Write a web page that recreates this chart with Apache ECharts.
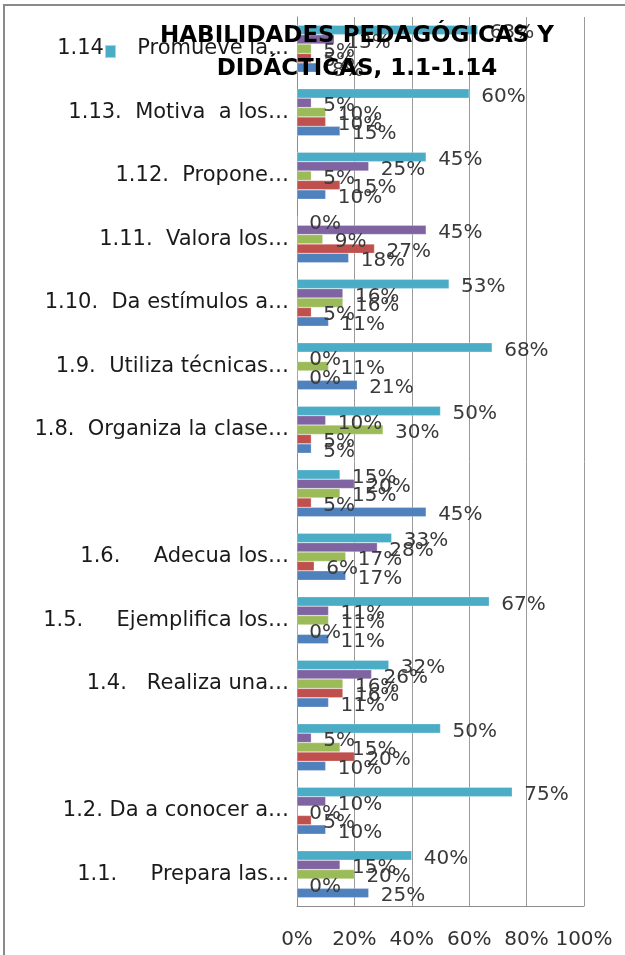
<!DOCTYPE html>
<html>
<head>
<meta charset="utf-8">
<script src="https://cdn.jsdelivr.net/npm/echarts@6/dist/echarts.min.js"></script>
<style>
  html, body { margin: 0; padding: 0; background: #fff; }
  #chart { width: 625px; height: 955px; }
  #frame {
    position: absolute; left: 3px; top: 4px; width: 700px; height: 1100px;
    border: 2px solid #8a8a8a; pointer-events: none;
  }
</style>
</head>
<body>
<div id="chart"></div>
<div id="frame"></div>
<script>
  // categorías (de abajo hacia arriba)
  var categories = [
    '1.1.     Prepara las…',
    '1.2. Da a conocer a…',
    '',
    '1.4.   Realiza una…',
    '1.5.     Ejemplifica los…',
    '1.6.     Adecua los…',
    '',
    '1.8.  Organiza la clase…',
    '1.9.  Utiliza técnicas…',
    '1.10.  Da estímulos a…',
    '1.11.  Valora los…',
    '1.12.  Propone…',
    '1.13.  Motiva  a los…',
    '1.14.    Promueve la…'
  ];
  var xTicks = ['0%', '20%', '40%', '60%', '80%', '100%'];

  // valores en %
  var serieAzul    = [25, 10, 10, 11, 11, 17, 45, 5, 21, 11, 18, 10, 15, 8];
  var serieRoja    = [0, 5, 20, 16, 0, 6, 5, 5, 0, 5, 27, 15, 10, 5];
  var serieVerde   = [20, 0, 15, 16, 11, 17, 15, 30, 11, 16, 9, 5, 10, 5];
  var serieMorada  = [15, 10, 5, 26, 11, 28, 20, 10, 0, 16, 45, 25, 5, 13];
  var serieCeleste = [40, 75, 50, 32, 67, 33, 15, 50, 68, 53, 0, 45, 60, 63];

  // orden en que echarts las apila dentro de la banda: la primera queda arriba
  var colores = ['#4BACC6', '#8064A2', '#9BBB59', '#C0504D', '#4F81BD'];
  var nombres = ['s5', 's4', 's3', 's2', 's1'];
  var datos = [serieCeleste, serieMorada, serieVerde, serieRoja, serieAzul];

  var font = '"DejaVu Sans", sans-serif';

  var chart = echarts.init(document.getElementById('chart'));

  var series = datos.map(function (d, i) {
    return {
      name: nombres[i],
      type: 'bar',
      data: d,
      barGap: '0%',
      barCategoryGap: '26%',
      itemStyle: { color: colores[i], borderColor: 'rgba(255,255,255,0.5)', borderWidth: 0.5 },
      label: {
        show: true,
        position: 'right',
        distance: 12,
        offset: [0, 3],
        formatter: '{c}%',
        color: '#3a3a3a',
        fontFamily: font,
        fontSize: 20
      },
      z: 2
    };
  });

  chart.setOption({
    animation: false,
    title: {
      text: 'HABILIDADES PEDAGÓGICAS Y\nDIDÁCTICAS, 1.1-1.14',
      left: 352,
      top: 15,
      textAlign: 'center',
      textStyle: {
        fontFamily: font,
        fontWeight: 'bold',
        fontSize: 23,
        lineHeight: 33,
        color: '#000',
        align: 'center'
      },
      z: 10
    },
    legend: {
      data: [nombres[0]],
      left: 99,
      top: 39,
      icon: 'rect',
      itemWidth: 11,
      itemHeight: 13,
      formatter: function () { return ''; },
      z: 9
    },
    grid: { left: 297, right: 41, top: 17, bottom: 49, containLabel: false },
    xAxis: {
      type: 'value',
      min: 0,
      max: 100,
      interval: 20,
      axisLine: { show: true, lineStyle: { color: '#8c8c8c', width: 1 } },
      axisTick: { show: false },
      splitLine: { show: true, lineStyle: { color: '#9a9a9a', width: 1 } },
      axisLabel: {
        margin: 24,
        fontFamily: font,
        fontSize: 20,
        color: '#333',
        formatter: function (v) { return xTicks[v / 20]; }
      }
    },
    yAxis: {
      type: 'category',
      data: categories,
      axisLine: { show: true, lineStyle: { color: '#8c8c8c', width: 1 } },
      axisTick: { show: false },
      axisLabel: {
        margin: 8,
        fontFamily: font,
        fontSize: 21,
        color: '#1a1a1a',
        padding: [8, 0, 0, 0]
      }
    },
    series: series
  });
</script>
</body>
</html>
